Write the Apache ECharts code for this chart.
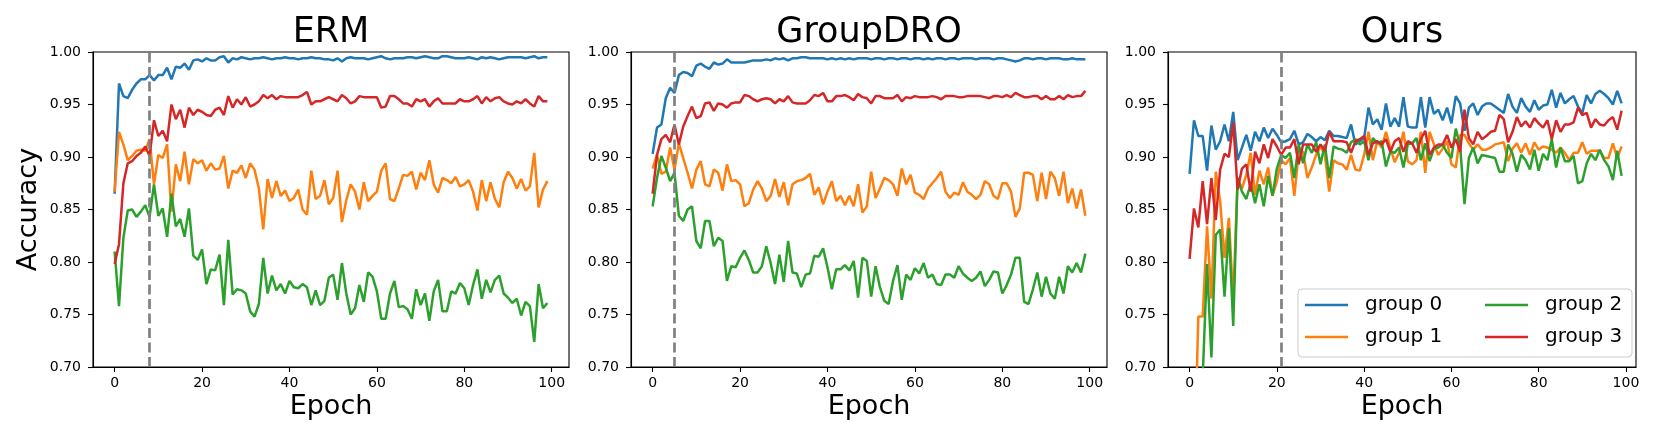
<!DOCTYPE html>
<html>
<head>
<meta charset="utf-8">
<script src="https://cdn.jsdelivr.net/npm/echarts@6.0.0/dist/echarts.min.js"></script>
<style>
  html, body { margin: 0; padding: 0; background: #fff; }
  #chart { width: 1661px; height: 443px; }
</style>
</head>
<body>
<div id="chart"></div>
<script>
  // epoch index for every curve (0 .. 99)
  const epochs = Array.from({ length: 100 }, (_, i) => i)

  const panelTitles = ['ERM', 'GroupDRO', 'Ours']
  const groupNames = ['group 0', 'group 1', 'group 2', 'group 3']
  const groupColors = ['#1f77b4', '#ff7f0e', '#2ca02c', '#d62728']
  const dashEpochs = [8, 5, 21]
  const xTicks = [0, 20, 40, 60, 80, 100]

  // ERM
  const ermGroup0 = [
    0.865, 0.970, 0.958, 0.956, 0.964, 0.970, 0.974, 0.974, 0.978, 0.973,
    0.978, 0.978, 0.985, 0.974, 0.986, 0.985, 0.989, 0.983, 0.992, 0.993,
    0.991, 0.994, 0.992, 0.992, 0.995, 0.996, 0.990, 0.994, 0.993, 0.995,
    0.994, 0.993, 0.994, 0.994, 0.995, 0.994, 0.993, 0.994, 0.994, 0.995,
    0.994, 0.994, 0.993, 0.994, 0.994, 0.995, 0.994, 0.994, 0.993, 0.993,
    0.992, 0.994, 0.991, 0.994, 0.995, 0.994, 0.994, 0.994, 0.993, 0.994,
    0.995, 0.996, 0.994, 0.993, 0.994, 0.994, 0.994, 0.995, 0.995, 0.994,
    0.995, 0.996, 0.995, 0.994, 0.994, 0.996, 0.996, 0.995, 0.994, 0.994,
    0.994, 0.995, 0.994, 0.993, 0.995, 0.994, 0.995, 0.994, 0.993, 0.994,
    0.995, 0.995, 0.995, 0.995, 0.994, 0.995, 0.996, 0.994, 0.995, 0.995
  ]
  const ermGroup1 = [
    0.867, 0.924, 0.912, 0.897, 0.901, 0.906, 0.907, 0.906, 0.917, 0.874,
    0.902, 0.899, 0.912, 0.848, 0.893, 0.877, 0.905, 0.874, 0.898, 0.894,
    0.897, 0.887, 0.894, 0.888, 0.889, 0.901, 0.870, 0.887, 0.885, 0.892,
    0.880, 0.894, 0.888, 0.870, 0.831, 0.879, 0.861, 0.877, 0.863, 0.868,
    0.858, 0.861, 0.869, 0.850, 0.845, 0.887, 0.860, 0.863, 0.878, 0.855,
    0.861, 0.887, 0.838, 0.859, 0.874, 0.867, 0.850, 0.876, 0.858, 0.863,
    0.867, 0.887, 0.894, 0.860, 0.858, 0.870, 0.883, 0.882, 0.886, 0.869,
    0.885, 0.878, 0.897, 0.874, 0.866, 0.880, 0.878, 0.875, 0.881, 0.872,
    0.874, 0.878, 0.867, 0.849, 0.878, 0.858, 0.876, 0.860, 0.852, 0.876,
    0.886, 0.880, 0.870, 0.879, 0.868, 0.872, 0.904, 0.852, 0.869, 0.877
  ]
  const ermGroup2 = [
    0.810, 0.758, 0.823, 0.849, 0.850, 0.843, 0.848, 0.854, 0.843, 0.874,
    0.844, 0.851, 0.824, 0.865, 0.834, 0.841, 0.824, 0.851, 0.806, 0.802,
    0.812, 0.779, 0.793, 0.792, 0.807, 0.759, 0.821, 0.769, 0.774, 0.773,
    0.770, 0.753, 0.748, 0.760, 0.804, 0.770, 0.787, 0.773, 0.779, 0.770,
    0.782, 0.776, 0.775, 0.779, 0.776, 0.759, 0.773, 0.759, 0.763, 0.785,
    0.788, 0.764, 0.799, 0.770, 0.750, 0.756, 0.778, 0.762, 0.790, 0.786,
    0.772, 0.746, 0.746, 0.770, 0.782, 0.757, 0.758, 0.755, 0.746, 0.774,
    0.759, 0.770, 0.744, 0.772, 0.783, 0.753, 0.753, 0.772, 0.770, 0.780,
    0.775, 0.759, 0.778, 0.793, 0.765, 0.783, 0.771, 0.783, 0.787, 0.770,
    0.766, 0.761, 0.765, 0.749, 0.762, 0.758, 0.724, 0.779, 0.756, 0.761
  ]
  const ermGroup3 = [
    0.798, 0.817, 0.875, 0.894, 0.896, 0.901, 0.904, 0.910, 0.901, 0.935,
    0.920, 0.925, 0.915, 0.950, 0.936, 0.945, 0.928, 0.947, 0.940, 0.945,
    0.943, 0.940, 0.939, 0.945, 0.947, 0.940, 0.958, 0.947, 0.955, 0.950,
    0.957, 0.948, 0.950, 0.953, 0.959, 0.956, 0.959, 0.955, 0.958, 0.957,
    0.957, 0.957, 0.957, 0.959, 0.962, 0.950, 0.953, 0.953, 0.955, 0.957,
    0.955, 0.953, 0.959, 0.956, 0.951, 0.953, 0.958, 0.957, 0.957, 0.957,
    0.957, 0.947, 0.948, 0.958, 0.958, 0.955, 0.951, 0.951, 0.948, 0.955,
    0.953, 0.955, 0.948, 0.953, 0.956, 0.951, 0.951, 0.951, 0.951, 0.955,
    0.953, 0.953, 0.955, 0.958, 0.951, 0.957, 0.953, 0.956, 0.957, 0.953,
    0.951, 0.950, 0.953, 0.951, 0.955, 0.951, 0.948, 0.958, 0.953, 0.953
  ]

  // GroupDRO
  const droGroup0 = [
    0.903, 0.928, 0.931, 0.956, 0.966, 0.961, 0.978, 0.981, 0.980, 0.977,
    0.987, 0.989, 0.986, 0.984, 0.990, 0.988, 0.989, 0.993, 0.990, 0.990,
    0.990, 0.990, 0.991, 0.992, 0.992, 0.992, 0.993, 0.992, 0.994, 0.993,
    0.994, 0.992, 0.994, 0.994, 0.995, 0.995, 0.994, 0.994, 0.994, 0.994,
    0.993, 0.994, 0.993, 0.994, 0.993, 0.994, 0.993, 0.994, 0.994, 0.994,
    0.993, 0.994, 0.994, 0.993, 0.994, 0.994, 0.993, 0.994, 0.994, 0.993,
    0.994, 0.994, 0.993, 0.994, 0.993, 0.994, 0.994, 0.993, 0.994, 0.994,
    0.993, 0.994, 0.994, 0.994, 0.993, 0.994, 0.994, 0.994, 0.993, 0.994,
    0.994, 0.993, 0.992, 0.991, 0.992, 0.994, 0.994, 0.993, 0.994, 0.994,
    0.993, 0.994, 0.994, 0.994, 0.993, 0.993, 0.994, 0.993, 0.993, 0.993
  ]
  const droGroup1 = [
    0.889, 0.902, 0.884, 0.886, 0.909, 0.888, 0.913, 0.899, 0.885, 0.870,
    0.888, 0.896, 0.874, 0.872, 0.888, 0.885, 0.868, 0.893, 0.877, 0.878,
    0.874, 0.853, 0.856, 0.869, 0.877, 0.870, 0.858, 0.863, 0.879, 0.862,
    0.876, 0.854, 0.874, 0.877, 0.878, 0.880, 0.884, 0.864, 0.871, 0.855,
    0.867, 0.877, 0.858, 0.863, 0.854, 0.863, 0.853, 0.874, 0.847, 0.853,
    0.886, 0.861, 0.870, 0.880, 0.878, 0.874, 0.863, 0.889, 0.874, 0.883,
    0.866, 0.864, 0.860, 0.870, 0.875, 0.880, 0.886, 0.867, 0.861, 0.866,
    0.864, 0.876, 0.867, 0.864, 0.860, 0.864, 0.877, 0.874, 0.863, 0.860,
    0.875, 0.875, 0.867, 0.843, 0.851, 0.885, 0.885, 0.883, 0.858, 0.885,
    0.860, 0.886, 0.880, 0.863, 0.886, 0.856, 0.870, 0.851, 0.869, 0.844
  ]
  const droGroup2 = [
    0.853, 0.880, 0.901, 0.890, 0.877, 0.885, 0.844, 0.839, 0.850, 0.853,
    0.820, 0.813, 0.839, 0.839, 0.815, 0.823, 0.820, 0.782, 0.796, 0.795,
    0.804, 0.811, 0.802, 0.790, 0.790, 0.796, 0.815, 0.799, 0.779, 0.807,
    0.781, 0.820, 0.790, 0.789, 0.776, 0.788, 0.789, 0.806, 0.805, 0.813,
    0.795, 0.774, 0.793, 0.793, 0.797, 0.792, 0.801, 0.766, 0.804, 0.801,
    0.767, 0.796, 0.776, 0.763, 0.760, 0.782, 0.797, 0.764, 0.788, 0.783,
    0.794, 0.789, 0.799, 0.785, 0.788, 0.779, 0.778, 0.788, 0.788, 0.785,
    0.796, 0.789, 0.785, 0.782, 0.785, 0.791, 0.777, 0.783, 0.791, 0.790,
    0.770, 0.778, 0.788, 0.804, 0.804, 0.762, 0.760, 0.774, 0.790, 0.767,
    0.786, 0.770, 0.765, 0.786, 0.770, 0.796, 0.790, 0.799, 0.790, 0.808
  ]
  const droGroup3 = [
    0.865, 0.902, 0.917, 0.921, 0.914, 0.931, 0.912, 0.929, 0.939, 0.948,
    0.937, 0.939, 0.951, 0.952, 0.944, 0.951, 0.950, 0.947, 0.951, 0.952,
    0.952, 0.959, 0.958, 0.955, 0.953, 0.955, 0.956, 0.955, 0.951, 0.955,
    0.953, 0.958, 0.952, 0.951, 0.951, 0.951, 0.954, 0.959, 0.958, 0.961,
    0.953, 0.953, 0.958, 0.958, 0.959, 0.957, 0.954, 0.960, 0.957, 0.956,
    0.951, 0.958, 0.958, 0.956, 0.956, 0.956, 0.959, 0.953, 0.957, 0.956,
    0.958, 0.957, 0.957, 0.957, 0.958, 0.957, 0.955, 0.958, 0.958, 0.958,
    0.957, 0.957, 0.958, 0.958, 0.958, 0.958, 0.957, 0.956, 0.958, 0.958,
    0.957, 0.959, 0.957, 0.961, 0.959, 0.957, 0.957, 0.958, 0.958, 0.955,
    0.958, 0.955, 0.955, 0.958, 0.955, 0.959, 0.957, 0.958, 0.958, 0.963
  ]

  // Ours
  const oursGroup0 = [
    0.884, 0.935, 0.920, 0.920, 0.887, 0.930, 0.907, 0.915, 0.931, 0.915,
    0.943, 0.897, 0.909, 0.921, 0.906, 0.924, 0.915, 0.928, 0.918, 0.927,
    0.921, 0.914, 0.915, 0.917, 0.925, 0.912, 0.914, 0.922, 0.919, 0.915,
    0.919, 0.916, 0.925, 0.920, 0.920, 0.919, 0.918, 0.931, 0.912, 0.915,
    0.918, 0.947, 0.931, 0.936, 0.926, 0.951, 0.929, 0.937, 0.929, 0.957,
    0.929, 0.928, 0.928, 0.957, 0.928, 0.957, 0.941, 0.945, 0.935, 0.947,
    0.932, 0.958, 0.951, 0.925, 0.947, 0.951, 0.940, 0.948, 0.951, 0.951,
    0.948, 0.945, 0.942, 0.960, 0.948, 0.942, 0.956, 0.948, 0.943, 0.954,
    0.945, 0.949, 0.950, 0.964, 0.947, 0.961, 0.951, 0.955, 0.958, 0.948,
    0.942, 0.959, 0.951, 0.960, 0.963, 0.960, 0.956, 0.950, 0.963, 0.951
  ]
  const oursGroup1 = [
    0.600, 0.590, 0.748, 0.748, 0.834, 0.765, 0.886, 0.858, 0.804, 0.842,
    0.763, 0.880, 0.870, 0.883, 0.904, 0.864, 0.887, 0.874, 0.890, 0.863,
    0.877, 0.897, 0.893, 0.899, 0.863, 0.904, 0.905, 0.880, 0.890, 0.902,
    0.910, 0.902, 0.867, 0.897, 0.894, 0.893, 0.888, 0.902, 0.888, 0.887,
    0.902, 0.924, 0.897, 0.915, 0.909, 0.924, 0.909, 0.895, 0.904, 0.924,
    0.896, 0.893, 0.897, 0.924, 0.885, 0.924, 0.912, 0.902, 0.908, 0.915,
    0.893, 0.890, 0.921, 0.921, 0.913, 0.907, 0.912, 0.907, 0.907, 0.909,
    0.912, 0.913, 0.914, 0.896, 0.908, 0.913, 0.904, 0.913, 0.902, 0.914,
    0.907, 0.910, 0.909, 0.907, 0.904, 0.909, 0.904, 0.897, 0.904, 0.904,
    0.914, 0.903, 0.906, 0.906, 0.906, 0.899, 0.899, 0.913, 0.899, 0.910
  ]
  const oursGroup2 = [
    0.620, 0.640, 0.660, 0.690, 0.798, 0.709, 0.826, 0.831, 0.767, 0.832,
    0.739, 0.880, 0.867, 0.860, 0.875, 0.856, 0.874, 0.853, 0.882, 0.863,
    0.889, 0.902, 0.899, 0.904, 0.880, 0.912, 0.894, 0.912, 0.904, 0.914,
    0.893, 0.912, 0.880, 0.910, 0.908, 0.907, 0.904, 0.914, 0.917, 0.912,
    0.915, 0.897, 0.918, 0.913, 0.915, 0.891, 0.905, 0.904, 0.909, 0.890,
    0.912, 0.913, 0.918, 0.897, 0.913, 0.896, 0.908, 0.909, 0.912, 0.904,
    0.899, 0.927, 0.910, 0.855, 0.899, 0.909, 0.894, 0.902, 0.901, 0.900,
    0.899, 0.886, 0.886, 0.912, 0.903, 0.886, 0.902, 0.897, 0.888, 0.907,
    0.887, 0.903, 0.897, 0.917, 0.890, 0.909, 0.896, 0.896, 0.901, 0.875,
    0.877, 0.894, 0.903, 0.897, 0.907, 0.897, 0.891, 0.878, 0.906, 0.882
  ]
  const oursGroup3 = [
    0.803, 0.851, 0.833, 0.877, 0.836, 0.880, 0.840, 0.888, 0.903, 0.900,
    0.933, 0.869, 0.889, 0.893, 0.867, 0.905, 0.894, 0.912, 0.899, 0.917,
    0.910, 0.902, 0.909, 0.909, 0.917, 0.893, 0.912, 0.912, 0.912, 0.905,
    0.912, 0.906, 0.924, 0.915, 0.915, 0.915, 0.914, 0.904, 0.915, 0.917,
    0.920, 0.902, 0.913, 0.915, 0.912, 0.917, 0.905, 0.915, 0.918, 0.905,
    0.915, 0.913, 0.904, 0.917, 0.925, 0.902, 0.909, 0.912, 0.912, 0.921,
    0.909, 0.917, 0.905, 0.945, 0.918, 0.912, 0.924, 0.917, 0.920, 0.924,
    0.925, 0.940, 0.936, 0.914, 0.924, 0.938, 0.929, 0.934, 0.928, 0.937,
    0.932, 0.928, 0.935, 0.917, 0.935, 0.924, 0.931, 0.931, 0.933, 0.947,
    0.940, 0.942, 0.928, 0.936, 0.931, 0.930, 0.935, 0.938, 0.926, 0.944
  ]

  const panels = [
    [ermGroup0, ermGroup1, ermGroup2, ermGroup3],
    [droGroup0, droGroup1, droGroup2, droGroup3],
    [oursGroup0, oursGroup1, oursGroup2, oursGroup3]
  ]

  const FONT = 'DejaVu Sans'
  // plot boxes in px (left, width) and x range like matplotlib's 5% margins
  const gridLeft = [93, 631, 1168]
  const gridWidth = [476, 476, 468]
  const xMax = [103.95, 103.95, 102.3]
  const gridTop = 52
  const gridHeight = 315

  const chart = echarts.init(document.getElementById('chart'), null, { renderer: 'canvas' })

  const axisLineStyle = { show: true, onZero: false, lineStyle: { color: '#000', width: 1.1 } }

  const grids = [], xAxes = [], yAxes = [], series = [], graphics = []
  panels.forEach((groups, p) => {
    grids.push({
      left: gridLeft[p], top: gridTop, width: gridWidth[p], height: gridHeight,
      show: true, borderColor: '#000', borderWidth: 1.1, backgroundColor: '#fff'
    })
    xAxes.push({
      type: 'value', gridIndex: p, min: -4.95, max: xMax[p], position: 'bottom',
      axisLine: axisLineStyle,
      splitLine: { show: false },
      axisTick: { show: true, inside: false, length: 5, customValues: xTicks, lineStyle: { color: '#000', width: 1.1 } },
      axisLabel: { customValues: xTicks, margin: 9, color: '#000', fontFamily: FONT, fontSize: 14 }
    })
    yAxes.push({
      type: 'value', gridIndex: p, min: 0.7, max: 1.0, interval: 0.05, position: 'left',
      axisLine: axisLineStyle,
      splitLine: { show: false },
      axisTick: { show: true, inside: false, length: 5, lineStyle: { color: '#000', width: 1.1 } },
      axisLabel: { margin: 12, color: '#000', fontFamily: FONT, fontSize: 14, formatter: v => v.toFixed(2) }
    })
    groups.forEach((vals, g) => {
      const s = {
        name: groupNames[g], type: 'line', xAxisIndex: p, yAxisIndex: p,
        data: epochs.map((e, i) => [e, vals[i]]),
        showSymbol: false, symbol: 'none', clip: true,
        lineStyle: { width: 2.5, color: groupColors[g] },
        itemStyle: { color: groupColors[g] },
        animation: false, z: 2
      }
      if (g === 0) {
        s.markLine = {
          silent: true, symbol: ['none', 'none'], animation: false,
          label: { show: false },
          lineStyle: { color: '#808080', type: [10, 4.5], width: 2.7 },
          data: [{ xAxis: dashEpochs[p] }]
        }
      }
      series.push(s)
    })
    graphics.push({
      type: 'text', x: gridLeft[p] + gridWidth[p] / 2, y: 33,
      style: { text: panelTitles[p], font: '35px "DejaVu Sans"', fill: '#000', align: 'center', verticalAlign: 'middle' }
    })
    graphics.push({
      type: 'text', x: gridLeft[p] + gridWidth[p] / 2, y: 407,
      style: { text: 'Epoch', font: '27px "DejaVu Sans"', fill: '#000', align: 'center', verticalAlign: 'middle' }
    })
  })

  graphics.push({
    type: 'text', x: 29, y: gridTop + gridHeight / 2, rotation: Math.PI / 2,
    style: { text: 'Accuracy', font: '27px "DejaVu Sans"', fill: '#000', align: 'center', verticalAlign: 'middle' }
  })
  // legend frame (matplotlib style rounded box)
  graphics.push({
    type: 'rect', z: 5,
    shape: { x: 1298, y: 289, width: 334, height: 68, r: 4 },
    style: { fill: 'rgba(255,255,255,0.8)', stroke: '#cccccc', lineWidth: 1 }
  })

  const legendBase = {
    orient: 'vertical', padding: 0, itemGap: 12, itemWidth: 43, itemHeight: 2.5,
    icon: 'rect', z: 6, selectedMode: false,
    textStyle: { fontFamily: FONT, fontSize: 20, color: '#000', padding: [0, 0, 0, 12] }
  }

  chart.setOption({
    backgroundColor: '#fff',
    animation: false,
    grid: grids,
    xAxis: xAxes,
    yAxis: yAxes,
    series: series,
    graphic: graphics,
    legend: [
      Object.assign({}, legendBase, { left: 1305, top: 295, data: ['group 0', 'group 1'] }),
      Object.assign({}, legendBase, { left: 1485, top: 295, data: ['group 2', 'group 3'] })
    ]
  })
</script>
</body>
</html>
